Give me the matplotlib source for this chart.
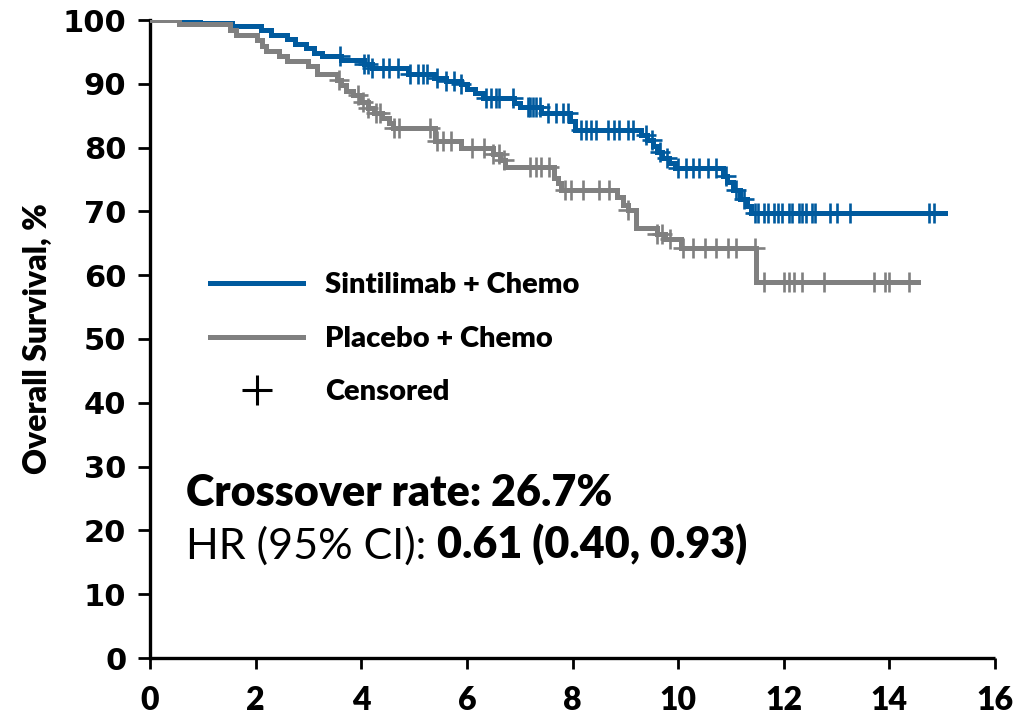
import numpy as np
import matplotlib
matplotlib.use("Agg")
import matplotlib.pyplot as plt
from matplotlib.lines import Line2D

# ---------------- data ----------------
sin_times = [0, 0.95, 1.55, 2.1, 2.3, 2.6, 2.75, 2.95, 3.1, 3.25, 3.62, 4.05, 4.2, 4.88,
             5.37, 5.6, 5.88, 6.0, 6.15, 6.3, 6.9, 7.0, 7.4, 7.95, 8.05, 9.3, 9.42, 9.52,
             9.6, 9.7, 9.82, 9.95, 10.85, 10.93, 11.03, 11.18, 11.3, 11.38]
sin_surv = [100, 99.6, 99.0, 98.4, 97.7, 97.0, 96.3, 95.6, 94.9, 94.4, 93.8, 93.1, 92.4, 91.6,
            90.9, 90.4, 90.0, 89.2, 88.6, 87.8, 87.0, 86.3, 85.5, 84.2, 82.8, 82.0, 81.2, 80.2,
            79.3, 78.4, 77.6, 76.8, 75.5, 74.6, 73.3, 72.0, 70.8, 69.7]
sin_end = 15.05
sin_censor = [3.6, 4.05, 4.12, 4.21, 4.42, 4.52, 4.69, 4.93, 5.07, 5.16, 5.25, 5.44, 5.6, 5.75,
              5.88, 6.36, 6.45, 6.55, 6.6, 6.87, 7.15, 7.2, 7.25, 7.3, 7.38, 7.53, 7.69, 7.82,
              7.91, 8.16, 8.26, 8.35, 8.45, 8.67, 8.79, 8.88, 9.05, 9.15, 9.4, 9.5, 9.65, 9.78,
              10.0, 10.15, 10.28, 10.4, 10.57, 10.72, 10.9, 11.1, 11.25, 11.45, 11.52, 11.62,
              11.71, 11.81, 11.9, 11.96, 12.09, 12.15, 12.28, 12.34, 12.43, 12.53, 12.59,
              12.87, 13.0, 13.25, 14.75, 14.85]

pla_times = [0, 0.55, 1.52, 1.62, 2.03, 2.12, 2.2, 2.45, 2.6, 3.0, 3.17, 3.55, 3.62, 3.72,
             3.85, 4.0, 4.12, 4.25, 4.4, 4.52, 4.6, 5.4, 5.88, 6.5, 6.62, 6.72, 7.65, 7.72,
             7.78, 8.85, 8.95, 9.05, 9.2, 9.6, 9.75, 10.05, 11.48]
pla_surv = [100, 99.3, 98.5, 97.6, 96.8, 95.9, 95.2, 94.4, 93.6, 92.8, 91.6, 90.6, 89.8, 88.9,
            88.2, 87.2, 86.2, 85.4, 84.6, 83.8, 83.0, 81.1, 80.0, 79.0, 78.0, 76.9, 75.3, 74.4,
            73.4, 72.2, 71.0, 70.2, 67.4, 66.4, 65.6, 64.2, 58.9]
pla_end = 14.55
pla_censor = [3.57, 3.93, 4.04, 4.12, 4.27, 4.35, 4.62, 4.72, 5.3, 5.44, 5.55, 5.7, 6.1, 6.32,
              6.5, 6.6, 6.7, 7.2, 7.3, 7.4, 7.55, 7.85, 7.97, 8.2, 8.5, 8.7, 9.05, 9.6, 9.7,
              9.85, 10.1, 10.28, 10.5, 10.72, 10.95, 11.1, 11.45, 11.62, 12.0, 12.09, 12.2,
              12.34, 12.77, 13.7, 13.91, 14.0, 14.38]

x_ticks = [0, 2, 4, 6, 8, 10, 12, 14, 16]
y_ticks = [0, 10, 20, 30, 40, 50, 60, 70, 80, 90, 100]
labels = ["Sintilimab + Chemo", "Placebo + Chemo", "Censored"]

BLUE = "#005A9E"
GRAY = "#808080"
CAL = ["Lato", "DejaVu Sans"]

fig = plt.figure(figsize=(10.2, 7.21), dpi=100)
ax = fig.add_axes([150/1020, 1-658/721, 845/1020, 638/721])


def km(ax, times, surv, end, censor, color):
    t = np.array(times + [end])
    s = np.array(surv + [surv[-1]])
    ax.plot(t, s, drawstyle="steps-post", color=color, lw=3.6, solid_joinstyle="miter", zorder=3)
    c = np.array(censor)
    idx = np.searchsorted(np.array(times), c, side="right") - 1
    cs = np.array(surv)[idx]
    ax.plot(c, cs, ls="none", marker="+", ms=14, mew=1.9, color=color, zorder=4)


km(ax, sin_times, sin_surv, sin_end, sin_censor, BLUE)
km(ax, pla_times, pla_surv, pla_end, pla_censor, GRAY)

ax.set_xlim(0, 16)
ax.set_ylim(0, 100)
ax.set_xticks(x_ticks)
ax.set_yticks(y_ticks)
ax.set_xticklabels([str(v) for v in x_ticks], fontfamily=CAL, fontweight="heavy", fontsize=23)
ax.set_yticklabels([str(v) for v in y_ticks], fontfamily="DejaVu Sans", fontweight="bold", fontsize=22)
ax.tick_params(axis="y", direction="out", length=9, width=2, pad=8)
ax.tick_params(axis="x", direction="out", length=8, width=2, pad=12)
for sp in ["top", "right"]:
    ax.spines[sp].set_visible(False)
for sp in ["left", "bottom"]:
    ax.spines[sp].set_linewidth(2.4)
ax.spines["bottom"].set_capstyle("butt")

ax.set_ylabel("Overall Survival, %", fontfamily=CAL, fontweight="heavy", fontsize=23, labelpad=8)

handles = [Line2D([], [], color=BLUE, lw=3.6),
           Line2D([], [], color=GRAY, lw=3.6),
           Line2D([], [], color="black", ls="none", marker="+", ms=22, mew=2.2)]
ax.legend(handles, labels, loc="upper left", bbox_to_anchor=(0.071, 0.605), frameon=False,
          borderpad=0, borderaxespad=0, handlelength=3.2, handletextpad=0.75, labelspacing=0.95,
          prop={"family": CAL, "weight": "heavy", "size": 21})

t1 = ax.text(0.0426, 23.8, "Crossover rate: 26.7%", transform=ax.get_yaxis_transform(),
             fontfamily=CAL, fontweight="heavy", fontsize=31, va="baseline", ha="left")
t2 = ax.text(0.0426, 15.6, "HR (95% CI): ", transform=ax.get_yaxis_transform(),
             fontfamily=CAL, fontweight="normal", fontsize=31, va="baseline", ha="left")
ax.annotate("0.61 (0.40, 0.93)", xy=(1, 0), xycoords=t2, va="bottom", ha="left",
            fontfamily=CAL, fontweight="heavy", fontsize=31)

fig.savefig("out.png", dpi=100)
